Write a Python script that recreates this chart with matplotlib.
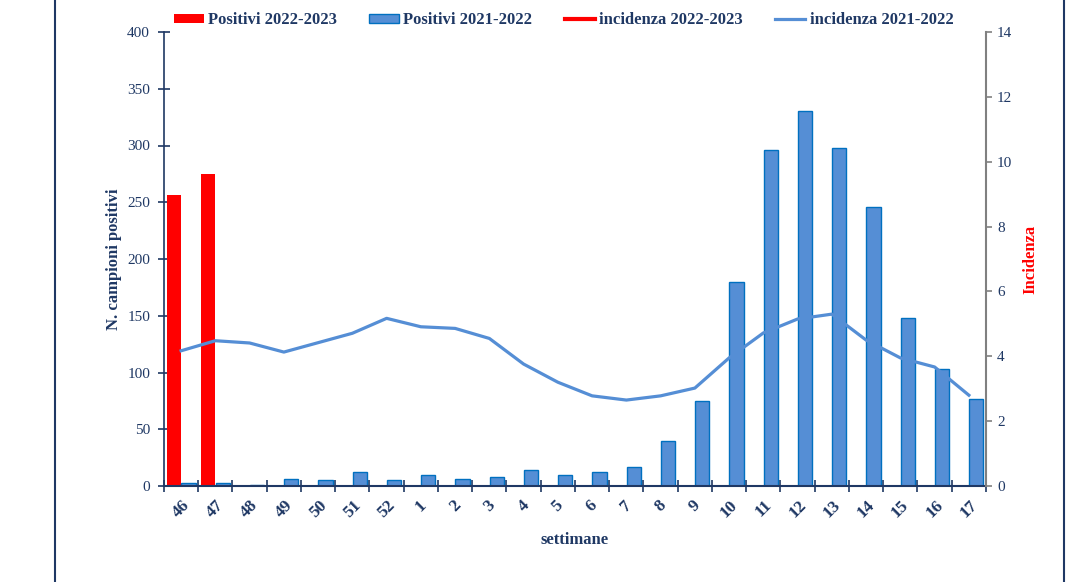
import matplotlib.pyplot as plt
import numpy as np
from matplotlib.lines import Line2D

# week labels on the x axis
settimane = ['46', '47', '48', '49', '50', '51', '52', '1', '2', '3', '4', '5',
             '6', '7', '8', '9', '10', '11', '12', '13', '14', '15', '16', '17']

# positive samples, season 2022-2023 (only the first weeks so far)
pos_2223 = [256, 275]
# positive samples, season 2021-2022
pos_2122 = [3, 3, 1, 6, 5, 12, 5, 10, 6, 8, 14, 10,
            12, 17, 40, 75, 180, 296, 330, 298, 246, 148, 103, 77]
# incidence, season 2021-2022
inc_2122 = [4.17, 4.48, 4.41, 4.13, 4.42, 4.71, 5.17, 4.91, 4.86, 4.55, 3.76, 3.20,
            2.78, 2.65, 2.78, 3.02, 3.95, 4.72, 5.15, 5.30, 4.50, 3.95, 3.67, 2.80]
# incidence, season 2022-2023 (no values drawn yet)
inc_2223 = []

navy = '#1F3864'
blue = '#558ED5'
plt.rcParams['font.family'] = ['Liberation Serif', 'DejaVu Serif']

fig = plt.figure(figsize=(10.68, 5.82), dpi=100)
ax = fig.add_axes([164/1068, 1-486/582, (986-164)/1068, (486-32)/582])
ax2 = ax.twinx()

x = np.arange(len(settimane))
ax.bar(x[:len(pos_2223)] - 0.205, pos_2223, width=0.41, color='#FF0000',
       label='Positivi 2022-2023', zorder=2)
ax.bar(x + 0.215, pos_2122, width=0.42, color=blue, edgecolor='#0070C0',
       linewidth=1.0, label='Positivi 2021-2022', zorder=2)

ax2.plot(np.arange(len(inc_2223)), inc_2223, color='#FF0000', lw=3,
         label='incidenza 2022-2023')
ax2.plot(x, inc_2122, color=blue, lw=2.3, label='incidenza 2021-2022')

ax.set_xlim(-0.5, len(settimane) - 0.5)
ax.set_ylim(0, 400)
ax2.set_ylim(0, 14)
ax.set_yticks(np.arange(0, 401, 50))
ax2.set_yticks(np.arange(0, 15, 2))

# ticks between categories, labels at centres
ax.set_xticks(np.arange(-0.5, len(settimane), 1))
ax.set_xticklabels([])
ax.set_xticks(x, minor=True)
ax.set_xticklabels(settimane, minor=True, rotation=45, ha='center',
                   fontweight='bold', fontsize=12.5, color=navy)
ax.tick_params(axis='x', which='minor', length=0, pad=8)
ax.tick_params(axis='x', which='major', direction='inout', length=8,
               width=1.2, color=navy)
ax.tick_params(axis='y', direction='inout', length=8, width=1.2, color=navy,
               labelsize=11, labelcolor=navy, pad=6)
ax2.tick_params(axis='y', direction='out', length=4, width=1.2, color='#808080',
                labelsize=11, labelcolor=navy, pad=4)

for s in ['top', 'right']:
    ax.spines[s].set_visible(False)
ax.spines['left'].set_color(navy)
ax.spines['bottom'].set_color(navy)
ax.spines['left'].set_linewidth(1.2)
ax.spines['bottom'].set_linewidth(1.5)
ax2.spines['top'].set_visible(False)
ax2.spines['left'].set_visible(False)
ax2.spines['bottom'].set_visible(False)
ax2.spines['right'].set_color('#808080')
ax2.spines['right'].set_linewidth(1.5)

ax.set_ylabel('N. campioni positivi', fontweight='bold', fontsize=12,
              color=navy, labelpad=4)
ax2.set_ylabel('Incidenza', fontweight='bold', fontsize=12, color='#FF0000',
               labelpad=7)
ax.set_xlabel('settimane', fontweight='bold', fontsize=12, color=navy,
              labelpad=8)

h1, l1 = ax.get_legend_handles_labels()
h2, l2 = ax2.get_legend_handles_labels()
leg = fig.legend(h1 + h2, l1 + l2, ncol=4, loc='center', frameon=False,
                 bbox_to_anchor=(0.5276, 0.965), handlelength=1.8,
                 handleheight=0.5, handletextpad=0.25, columnspacing=1.95,
                 prop={'weight': 'bold', 'size': 12})
for t in leg.get_texts():
    t.set_color(navy)

# frame lines at the sides of the picture
fig.add_artist(Line2D([55/1068, 55/1068], [0, 1], color=navy, lw=1.5))
fig.add_artist(Line2D([1064/1068, 1064/1068], [0, 1], color=navy, lw=1.5))

fig.savefig('out.png', dpi=100)
